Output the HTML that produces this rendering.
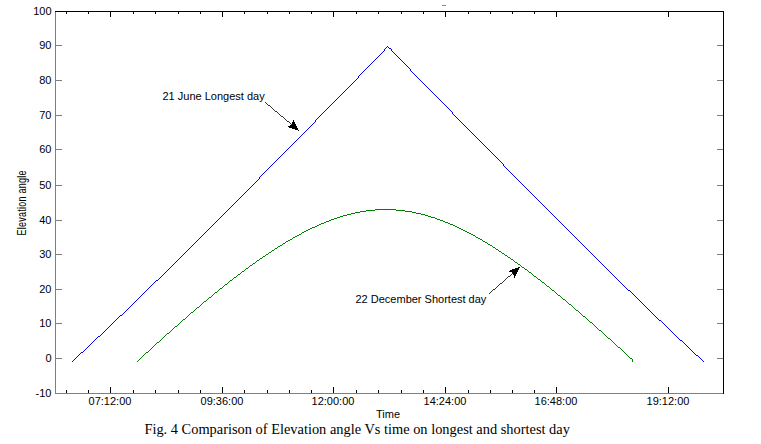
<!DOCTYPE html>
<html><head><meta charset="utf-8"><style>
html,body{margin:0;padding:0;background:#fff;}
body{width:761px;height:444px;overflow:hidden;}
svg{display:block;}
</style></head><body>
<svg width="761" height="444" viewBox="0 0 761 444">
<g shape-rendering="crispEdges">
<rect x="55" y="11" width="1" height="383" fill="#7f7f7f"/>
<rect x="55" y="393" width="669" height="1" fill="#7f7f7f"/>
<rect x="55" y="11" width="669" height="1" fill="#000"/>
<rect x="723" y="11" width="1" height="383" fill="#000"/>
<rect x="56" y="45" width="6" height="1" fill="#7f7f7f"/>
<rect x="717" y="45" width="6" height="1" fill="#7f7f7f"/>
<rect x="56" y="80" width="6" height="1" fill="#7f7f7f"/>
<rect x="717" y="80" width="6" height="1" fill="#7f7f7f"/>
<rect x="56" y="115" width="6" height="1" fill="#7f7f7f"/>
<rect x="717" y="115" width="6" height="1" fill="#7f7f7f"/>
<rect x="56" y="149" width="6" height="1" fill="#7f7f7f"/>
<rect x="717" y="149" width="6" height="1" fill="#7f7f7f"/>
<rect x="56" y="185" width="6" height="1" fill="#7f7f7f"/>
<rect x="717" y="185" width="6" height="1" fill="#7f7f7f"/>
<rect x="56" y="220" width="6" height="1" fill="#7f7f7f"/>
<rect x="717" y="220" width="6" height="1" fill="#7f7f7f"/>
<rect x="56" y="254" width="6" height="1" fill="#7f7f7f"/>
<rect x="717" y="254" width="6" height="1" fill="#7f7f7f"/>
<rect x="56" y="289" width="6" height="1" fill="#7f7f7f"/>
<rect x="717" y="289" width="6" height="1" fill="#7f7f7f"/>
<rect x="56" y="323" width="6" height="1" fill="#7f7f7f"/>
<rect x="717" y="323" width="6" height="1" fill="#7f7f7f"/>
<rect x="56" y="358" width="6" height="1" fill="#7f7f7f"/>
<rect x="717" y="358" width="6" height="1" fill="#7f7f7f"/>
<rect x="110" y="387" width="1" height="6" fill="#000"/>
<rect x="110" y="12" width="1" height="5" fill="#000"/>
<rect x="222" y="387" width="1" height="6" fill="#000"/>
<rect x="222" y="12" width="1" height="5" fill="#000"/>
<rect x="333" y="387" width="1" height="6" fill="#000"/>
<rect x="333" y="12" width="1" height="5" fill="#000"/>
<rect x="445" y="387" width="1" height="6" fill="#000"/>
<rect x="445" y="12" width="1" height="5" fill="#000"/>
<rect x="556" y="387" width="1" height="6" fill="#000"/>
<rect x="556" y="12" width="1" height="5" fill="#000"/>
<rect x="668" y="387" width="1" height="6" fill="#000"/>
<rect x="668" y="12" width="1" height="5" fill="#000"/>
<rect x="66" y="390" width="1" height="3" fill="#000"/>
<rect x="66" y="12" width="1" height="2" fill="#000"/>
<rect x="88" y="390" width="1" height="3" fill="#000"/>
<rect x="88" y="12" width="1" height="2" fill="#000"/>
<rect x="133" y="390" width="1" height="3" fill="#000"/>
<rect x="133" y="12" width="1" height="2" fill="#000"/>
<rect x="155" y="390" width="1" height="3" fill="#000"/>
<rect x="155" y="12" width="1" height="2" fill="#000"/>
<rect x="178" y="390" width="1" height="3" fill="#000"/>
<rect x="178" y="12" width="1" height="2" fill="#000"/>
<rect x="200" y="390" width="1" height="3" fill="#000"/>
<rect x="200" y="12" width="1" height="2" fill="#000"/>
<rect x="244" y="390" width="1" height="3" fill="#000"/>
<rect x="244" y="12" width="1" height="2" fill="#000"/>
<rect x="267" y="390" width="1" height="3" fill="#000"/>
<rect x="267" y="12" width="1" height="2" fill="#000"/>
<rect x="289" y="390" width="1" height="3" fill="#000"/>
<rect x="289" y="12" width="1" height="2" fill="#000"/>
<rect x="311" y="390" width="1" height="3" fill="#000"/>
<rect x="311" y="12" width="1" height="2" fill="#000"/>
<rect x="356" y="390" width="1" height="3" fill="#000"/>
<rect x="356" y="12" width="1" height="2" fill="#000"/>
<rect x="378" y="390" width="1" height="3" fill="#000"/>
<rect x="378" y="12" width="1" height="2" fill="#000"/>
<rect x="401" y="390" width="1" height="3" fill="#000"/>
<rect x="401" y="12" width="1" height="2" fill="#000"/>
<rect x="423" y="390" width="1" height="3" fill="#000"/>
<rect x="423" y="12" width="1" height="2" fill="#000"/>
<rect x="468" y="390" width="1" height="3" fill="#000"/>
<rect x="468" y="12" width="1" height="2" fill="#000"/>
<rect x="490" y="390" width="1" height="3" fill="#000"/>
<rect x="490" y="12" width="1" height="2" fill="#000"/>
<rect x="512" y="390" width="1" height="3" fill="#000"/>
<rect x="512" y="12" width="1" height="2" fill="#000"/>
<rect x="534" y="390" width="1" height="3" fill="#000"/>
<rect x="534" y="12" width="1" height="2" fill="#000"/>
<rect x="442" y="5" width="4" height="1" fill="#888"/>
</g>
<path d="M387 46h1v1h-1zM386 47h1v1h-1zM388 47h1v1h-1zM385 48h1v1h-1zM389 48h2v1h-2zM384 49h1v1h-1zM391 49h1v1h-1zM384 50h1v1h-1zM391 50h1v1h-1zM383 51h1v1h-1zM392 51h1v1h-1zM382 52h1v1h-1zM393 52h1v1h-1zM381 53h1v1h-1zM394 53h1v1h-1zM380 54h1v1h-1zM395 54h1v1h-1zM379 55h1v1h-1zM396 55h1v1h-1zM378 56h1v1h-1zM397 56h1v1h-1zM377 57h1v1h-1zM398 57h1v1h-1zM376 58h1v1h-1zM399 58h1v1h-1zM375 59h1v1h-1zM400 59h1v1h-1zM374 60h1v1h-1zM401 60h1v1h-1zM373 61h1v1h-1zM402 61h1v1h-1zM372 62h1v1h-1zM403 62h1v1h-1zM371 63h1v1h-1zM404 63h1v1h-1zM370 64h1v1h-1zM405 64h1v1h-1zM369 65h1v1h-1zM406 65h1v1h-1zM368 66h1v1h-1zM407 66h1v1h-1zM367 67h1v1h-1zM408 67h1v1h-1zM366 68h1v1h-1zM409 68h1v1h-1zM365 69h1v1h-1zM410 69h1v1h-1zM364 70h1v1h-1zM410 70h1v1h-1zM363 71h1v1h-1zM411 71h1v1h-1zM362 72h1v1h-1zM412 72h1v1h-1zM361 73h1v1h-1zM413 73h1v1h-1zM360 74h1v1h-1zM414 74h1v1h-1zM359 75h1v1h-1zM415 75h1v1h-1zM358 76h1v1h-1zM416 76h1v1h-1zM358 77h1v1h-1zM417 77h1v1h-1zM357 78h1v1h-1zM418 78h1v1h-1zM356 79h1v1h-1zM419 79h1v1h-1zM355 80h1v1h-1zM420 80h1v1h-1zM354 81h1v1h-1zM421 81h1v1h-1zM353 82h1v1h-1zM422 82h1v1h-1zM352 83h1v1h-1zM423 83h1v1h-1zM351 84h1v1h-1zM424 84h1v1h-1zM350 85h1v1h-1zM425 85h1v1h-1zM349 86h1v1h-1zM426 86h1v1h-1zM348 87h1v1h-1zM427 87h1v1h-1zM347 88h1v1h-1zM428 88h1v1h-1zM346 89h1v1h-1zM429 89h1v1h-1zM345 90h1v1h-1zM430 90h1v1h-1zM344 91h1v1h-1zM431 91h1v1h-1zM343 92h1v1h-1zM432 92h1v1h-1zM342 93h1v1h-1zM433 93h1v1h-1zM341 94h1v1h-1zM434 94h1v1h-1zM340 95h1v1h-1zM435 95h1v1h-1zM339 96h1v1h-1zM436 96h1v1h-1zM338 97h1v1h-1zM437 97h1v1h-1zM337 98h1v1h-1zM438 98h1v1h-1zM336 99h1v1h-1zM439 99h1v1h-1zM335 100h1v1h-1zM440 100h1v1h-1zM334 101h1v1h-1zM441 101h1v1h-1zM333 102h1v1h-1zM442 102h1v1h-1zM332 103h1v1h-1zM443 103h1v1h-1zM331 104h1v1h-1zM444 104h1v1h-1zM330 105h1v1h-1zM445 105h1v1h-1zM329 106h1v1h-1zM446 106h1v1h-1zM328 107h1v1h-1zM447 107h1v1h-1zM327 108h1v1h-1zM448 108h1v1h-1zM326 109h1v1h-1zM449 109h1v1h-1zM325 110h1v1h-1zM450 110h1v1h-1zM324 111h1v1h-1zM451 111h1v1h-1zM323 112h1v1h-1zM452 112h1v1h-1zM322 113h1v1h-1zM452 113h1v1h-1zM321 114h1v1h-1zM453 114h1v1h-1zM320 115h1v1h-1zM454 115h1v1h-1zM319 116h1v1h-1zM455 116h1v1h-1zM318 117h1v1h-1zM456 117h1v1h-1zM317 118h1v1h-1zM457 118h1v1h-1zM316 119h1v1h-1zM458 119h1v1h-1zM315 120h1v1h-1zM459 120h1v1h-1zM315 121h1v1h-1zM460 121h1v1h-1zM314 122h1v1h-1zM461 122h1v1h-1zM313 123h1v1h-1zM462 123h1v1h-1zM312 124h1v1h-1zM463 124h1v1h-1zM311 125h1v1h-1zM464 125h1v1h-1zM310 126h1v1h-1zM465 126h1v1h-1zM309 127h1v1h-1zM466 127h1v1h-1zM308 128h1v1h-1zM467 128h1v1h-1zM307 129h1v1h-1zM468 129h1v1h-1zM306 130h1v1h-1zM469 130h1v1h-1zM305 131h1v1h-1zM470 131h1v1h-1zM304 132h1v1h-1zM471 132h1v1h-1zM303 133h1v1h-1zM472 133h1v1h-1zM302 134h1v1h-1zM473 134h1v1h-1zM301 135h1v1h-1zM474 135h1v1h-1zM300 136h1v1h-1zM475 136h1v1h-1zM299 137h1v1h-1zM476 137h1v1h-1zM298 138h1v1h-1zM477 138h1v1h-1zM297 139h1v1h-1zM478 139h1v1h-1zM296 140h1v1h-1zM479 140h1v1h-1zM295 141h1v1h-1zM480 141h1v1h-1zM294 142h1v1h-1zM481 142h1v1h-1zM293 143h1v1h-1zM482 143h1v1h-1zM292 144h1v1h-1zM483 144h1v1h-1zM291 145h1v1h-1zM484 145h1v1h-1zM290 146h1v1h-1zM485 146h1v1h-1zM289 147h1v1h-1zM486 147h1v1h-1zM288 148h1v1h-1zM487 148h1v1h-1zM287 149h1v1h-1zM488 149h1v1h-1zM286 150h1v1h-1zM489 150h1v1h-1zM285 151h1v1h-1zM490 151h1v1h-1zM284 152h1v1h-1zM491 152h1v1h-1zM283 153h1v1h-1zM492 153h1v1h-1zM282 154h1v1h-1zM493 154h1v1h-1zM281 155h1v1h-1zM494 155h1v1h-1zM280 156h1v1h-1zM495 156h1v1h-1zM279 157h1v1h-1zM496 157h1v1h-1zM278 158h1v1h-1zM497 158h1v1h-1zM277 159h1v1h-1zM498 159h1v1h-1zM276 160h1v1h-1zM499 160h1v1h-1zM275 161h1v1h-1zM500 161h1v1h-1zM274 162h1v1h-1zM501 162h1v1h-1zM273 163h1v1h-1zM502 163h1v1h-1zM272 164h1v1h-1zM503 164h1v1h-1zM271 165h1v1h-1zM503 165h1v1h-1zM270 166h1v1h-1zM504 166h1v1h-1zM269 167h1v1h-1zM505 167h1v1h-1zM268 168h1v1h-1zM506 168h1v1h-1zM267 169h1v1h-1zM507 169h1v1h-1zM266 170h1v1h-1zM508 170h1v1h-1zM265 171h1v1h-1zM509 171h1v1h-1zM264 172h1v1h-1zM510 172h1v1h-1zM263 173h1v1h-1zM511 173h1v1h-1zM262 174h1v1h-1zM512 174h1v1h-1zM261 175h1v1h-1zM513 175h1v1h-1zM260 176h1v1h-1zM514 176h1v1h-1zM259 177h1v1h-1zM515 177h1v1h-1zM259 178h1v1h-1zM516 178h1v1h-1zM258 179h1v1h-1zM517 179h1v1h-1zM257 180h1v1h-1zM518 180h1v1h-1zM256 181h1v1h-1zM519 181h1v1h-1zM255 182h1v1h-1zM520 182h1v1h-1zM254 183h1v1h-1zM521 183h1v1h-1zM253 184h1v1h-1zM522 184h1v1h-1zM252 185h1v1h-1zM523 185h1v1h-1zM251 186h1v1h-1zM524 186h1v1h-1zM250 187h1v1h-1zM525 187h1v1h-1zM249 188h1v1h-1zM526 188h1v1h-1zM248 189h1v1h-1zM527 189h1v1h-1zM247 190h1v1h-1zM528 190h1v1h-1zM246 191h1v1h-1zM529 191h1v1h-1zM245 192h1v1h-1zM530 192h1v1h-1zM244 193h1v1h-1zM531 193h1v1h-1zM243 194h1v1h-1zM532 194h1v1h-1zM242 195h1v1h-1zM533 195h1v1h-1zM241 196h1v1h-1zM534 196h1v1h-1zM240 197h1v1h-1zM535 197h1v1h-1zM239 198h1v1h-1zM536 198h1v1h-1zM238 199h1v1h-1zM537 199h1v1h-1zM237 200h1v1h-1zM538 200h1v1h-1zM236 201h1v1h-1zM539 201h1v1h-1zM235 202h1v1h-1zM540 202h1v1h-1zM234 203h1v1h-1zM541 203h1v1h-1zM233 204h1v1h-1zM542 204h1v1h-1zM232 205h1v1h-1zM543 205h1v1h-1zM231 206h1v1h-1zM544 206h1v1h-1zM230 207h1v1h-1zM545 207h1v1h-1zM229 208h1v1h-1zM546 208h1v1h-1zM228 209h1v1h-1zM547 209h1v1h-1zM227 210h1v1h-1zM548 210h1v1h-1zM226 211h1v1h-1zM549 211h1v1h-1zM225 212h1v1h-1zM550 212h1v1h-1zM224 213h1v1h-1zM551 213h1v1h-1zM223 214h1v1h-1zM552 214h1v1h-1zM222 215h1v1h-1zM553 215h1v1h-1zM221 216h1v1h-1zM554 216h1v1h-1zM220 217h1v1h-1zM555 217h1v1h-1zM219 218h1v1h-1zM556 218h1v1h-1zM218 219h1v1h-1zM557 219h1v1h-1zM217 220h1v1h-1zM558 220h1v1h-1zM216 221h1v1h-1zM559 221h1v1h-1zM215 222h1v1h-1zM560 222h1v1h-1zM214 223h1v1h-1zM561 223h1v1h-1zM213 224h1v1h-1zM562 224h1v1h-1zM212 225h1v1h-1zM563 225h1v1h-1zM211 226h1v1h-1zM564 226h1v1h-1zM210 227h1v1h-1zM565 227h1v1h-1zM209 228h1v1h-1zM566 228h1v1h-1zM208 229h1v1h-1zM567 229h1v1h-1zM207 230h1v1h-1zM568 230h1v1h-1zM206 231h1v1h-1zM569 231h1v1h-1zM205 232h1v1h-1zM570 232h1v1h-1zM204 233h1v1h-1zM571 233h1v1h-1zM203 234h1v1h-1zM572 234h1v1h-1zM202 235h1v1h-1zM573 235h1v1h-1zM201 236h1v1h-1zM574 236h1v1h-1zM200 237h1v1h-1zM575 237h1v1h-1zM199 238h1v1h-1zM576 238h1v1h-1zM198 239h1v1h-1zM577 239h1v1h-1zM197 240h1v1h-1zM578 240h1v1h-1zM196 241h1v1h-1zM579 241h1v1h-1zM195 242h1v1h-1zM580 242h1v1h-1zM194 243h1v1h-1zM581 243h1v1h-1zM193 244h1v1h-1zM582 244h1v1h-1zM192 245h1v1h-1zM583 245h1v1h-1zM191 246h1v1h-1zM584 246h1v1h-1zM190 247h1v1h-1zM585 247h1v1h-1zM189 248h1v1h-1zM586 248h1v1h-1zM188 249h1v1h-1zM587 249h1v1h-1zM187 250h1v1h-1zM588 250h1v1h-1zM186 251h1v1h-1zM589 251h1v1h-1zM185 252h1v1h-1zM590 252h1v1h-1zM184 253h1v1h-1zM591 253h1v1h-1zM183 254h1v1h-1zM592 254h1v1h-1zM182 255h1v1h-1zM593 255h1v1h-1zM181 256h1v1h-1zM594 256h1v1h-1zM180 257h1v1h-1zM595 257h1v1h-1zM179 258h1v1h-1zM596 258h1v1h-1zM178 259h1v1h-1zM597 259h1v1h-1zM177 260h1v1h-1zM598 260h1v1h-1zM176 261h1v1h-1zM599 261h1v1h-1zM175 262h1v1h-1zM600 262h1v1h-1zM174 263h1v1h-1zM601 263h1v1h-1zM173 264h1v1h-1zM602 264h1v1h-1zM172 265h1v1h-1zM603 265h1v1h-1zM171 266h1v1h-1zM604 266h1v1h-1zM170 267h1v1h-1zM605 267h1v1h-1zM169 268h1v1h-1zM606 268h1v1h-1zM168 269h1v1h-1zM607 269h1v1h-1zM167 270h1v1h-1zM608 270h1v1h-1zM166 271h1v1h-1zM609 271h1v1h-1zM165 272h1v1h-1zM610 272h1v1h-1zM164 273h1v1h-1zM611 273h1v1h-1zM163 274h1v1h-1zM612 274h1v1h-1zM162 275h1v1h-1zM613 275h1v1h-1zM161 276h1v1h-1zM614 276h1v1h-1zM160 277h1v1h-1zM615 277h1v1h-1zM159 278h1v1h-1zM616 278h1v1h-1zM158 279h1v1h-1zM617 279h1v1h-1zM156 280h2v1h-2zM618 280h1v1h-1zM155 281h1v1h-1zM619 281h1v1h-1zM154 282h1v1h-1zM620 282h1v1h-1zM153 283h1v1h-1zM621 283h1v1h-1zM152 284h1v1h-1zM622 284h1v1h-1zM151 285h1v1h-1zM623 285h1v1h-1zM150 286h1v1h-1zM624 286h1v1h-1zM149 287h1v1h-1zM625 287h1v1h-1zM148 288h1v1h-1zM626 288h1v1h-1zM147 289h1v1h-1zM627 289h1v1h-1zM146 290h1v1h-1zM628 290h2v1h-2zM145 291h1v1h-1zM630 291h1v1h-1zM144 292h1v1h-1zM631 292h1v1h-1zM143 293h1v1h-1zM632 293h1v1h-1zM142 294h1v1h-1zM633 294h1v1h-1zM141 295h1v1h-1zM634 295h1v1h-1zM140 296h1v1h-1zM635 296h1v1h-1zM139 297h1v1h-1zM636 297h1v1h-1zM138 298h1v1h-1zM637 298h1v1h-1zM137 299h1v1h-1zM638 299h1v1h-1zM136 300h1v1h-1zM639 300h1v1h-1zM135 301h1v1h-1zM640 301h1v1h-1zM134 302h1v1h-1zM641 302h1v1h-1zM133 303h1v1h-1zM642 303h1v1h-1zM132 304h1v1h-1zM643 304h1v1h-1zM131 305h1v1h-1zM644 305h1v1h-1zM130 306h1v1h-1zM645 306h1v1h-1zM129 307h1v1h-1zM646 307h1v1h-1zM128 308h1v1h-1zM647 308h1v1h-1zM127 309h1v1h-1zM648 309h1v1h-1zM126 310h1v1h-1zM649 310h1v1h-1zM125 311h1v1h-1zM650 311h1v1h-1zM124 312h1v1h-1zM651 312h1v1h-1zM123 313h1v1h-1zM652 313h1v1h-1zM122 314h1v1h-1zM653 314h1v1h-1zM120 315h2v1h-2zM654 315h1v1h-1zM119 316h1v1h-1zM655 316h1v1h-1zM118 317h1v1h-1zM656 317h1v1h-1zM117 318h1v1h-1zM657 318h1v1h-1zM116 319h1v1h-1zM658 319h1v1h-1zM115 320h1v1h-1zM659 320h2v1h-2zM114 321h1v1h-1zM661 321h1v1h-1zM113 322h1v1h-1zM662 322h1v1h-1zM112 323h1v1h-1zM663 323h1v1h-1zM111 324h1v1h-1zM664 324h1v1h-1zM110 325h1v1h-1zM665 325h1v1h-1zM109 326h1v1h-1zM666 326h1v1h-1zM108 327h1v1h-1zM667 327h1v1h-1zM107 328h1v1h-1zM668 328h1v1h-1zM106 329h1v1h-1zM669 329h1v1h-1zM105 330h1v1h-1zM670 330h1v1h-1zM104 331h1v1h-1zM671 331h1v1h-1zM103 332h1v1h-1zM672 332h1v1h-1zM102 333h1v1h-1zM673 333h1v1h-1zM101 334h1v1h-1zM674 334h1v1h-1zM100 335h1v1h-1zM675 335h1v1h-1zM98 336h2v1h-2zM676 336h1v1h-1zM97 337h1v1h-1zM677 337h1v1h-1zM96 338h1v1h-1zM678 338h1v1h-1zM95 339h1v1h-1zM679 339h1v1h-1zM94 340h1v1h-1zM680 340h2v1h-2zM93 341h1v1h-1zM682 341h1v1h-1zM92 342h1v1h-1zM683 342h1v1h-1zM91 343h1v1h-1zM684 343h1v1h-1zM90 344h1v1h-1zM685 344h1v1h-1zM89 345h1v1h-1zM686 345h1v1h-1zM88 346h1v1h-1zM687 346h1v1h-1zM87 347h1v1h-1zM688 347h1v1h-1zM86 348h1v1h-1zM689 348h1v1h-1zM85 349h1v1h-1zM690 349h1v1h-1zM84 350h1v1h-1zM691 350h1v1h-1zM83 351h1v1h-1zM692 351h1v1h-1zM81 352h2v1h-2zM693 352h1v1h-1zM80 353h1v1h-1zM694 353h1v1h-1zM79 354h1v1h-1zM695 354h1v1h-1zM78 355h1v1h-1zM696 355h2v1h-2zM77 356h1v1h-1zM698 356h1v1h-1zM76 357h1v1h-1zM699 357h1v1h-1zM75 358h1v1h-1zM700 358h1v1h-1zM74 359h1v1h-1zM701 359h1v1h-1zM73 360h1v1h-1zM702 360h1v1h-1zM72 361h1v1h-1zM703 361h1v1h-1z" fill="#0000ff" shape-rendering="crispEdges"/>
<path d="M375 209h21v1h-21zM366 210h9v1h-9zM396 210h9v1h-9zM360 211h6v1h-6zM405 211h7v1h-7zM355 212h5v1h-5zM412 212h4v1h-4zM351 213h4v1h-4zM416 213h5v1h-5zM347 214h4v1h-4zM421 214h4v1h-4zM343 215h4v1h-4zM425 215h3v1h-3zM340 216h3v1h-3zM428 216h3v1h-3zM337 217h3v1h-3zM431 217h4v1h-4zM334 218h3v1h-3zM435 218h2v1h-2zM331 219h3v1h-3zM437 219h3v1h-3zM329 220h2v1h-2zM440 220h3v1h-3zM326 221h3v1h-3zM443 221h2v1h-2zM324 222h2v1h-2zM445 222h3v1h-3zM321 223h3v1h-3zM448 223h2v1h-2zM319 224h2v1h-2zM450 224h3v1h-3zM317 225h2v1h-2zM453 225h2v1h-2zM315 226h2v1h-2zM455 226h2v1h-2zM312 227h3v1h-3zM457 227h2v1h-2zM310 228h2v1h-2zM459 228h2v1h-2zM308 229h2v1h-2zM461 229h2v1h-2zM306 230h2v1h-2zM463 230h2v1h-2zM304 231h2v1h-2zM465 231h2v1h-2zM302 232h2v1h-2zM467 232h2v1h-2zM301 233h1v1h-1zM469 233h2v1h-2zM299 234h2v1h-2zM471 234h2v1h-2zM297 235h2v1h-2zM473 235h2v1h-2zM295 236h2v1h-2zM475 236h1v1h-1zM293 237h2v1h-2zM476 237h2v1h-2zM292 238h1v1h-1zM478 238h2v1h-2zM290 239h2v1h-2zM480 239h2v1h-2zM288 240h2v1h-2zM482 240h1v1h-1zM286 241h2v1h-2zM483 241h2v1h-2zM285 242h1v1h-1zM485 242h2v1h-2zM283 243h2v1h-2zM487 243h1v1h-1zM282 244h1v1h-1zM488 244h2v1h-2zM280 245h2v1h-2zM490 245h2v1h-2zM278 246h2v1h-2zM492 246h1v1h-1zM277 247h1v1h-1zM493 247h2v1h-2zM275 248h2v1h-2zM495 248h1v1h-1zM274 249h1v1h-1zM496 249h2v1h-2zM272 250h2v1h-2zM498 250h1v1h-1zM271 251h1v1h-1zM499 251h2v1h-2zM269 252h2v1h-2zM501 252h1v1h-1zM268 253h1v1h-1zM502 253h2v1h-2zM266 254h2v1h-2zM504 254h1v1h-1zM265 255h1v1h-1zM505 255h2v1h-2zM263 256h2v1h-2zM507 256h1v1h-1zM262 257h1v1h-1zM508 257h2v1h-2zM260 258h2v1h-2zM510 258h1v1h-1zM259 259h1v1h-1zM511 259h2v1h-2zM257 260h2v1h-2zM513 260h1v1h-1zM256 261h1v1h-1zM514 261h1v1h-1zM255 262h1v1h-1zM515 262h2v1h-2zM253 263h2v1h-2zM517 263h1v1h-1zM252 264h1v1h-1zM518 264h2v1h-2zM250 265h2v1h-2zM520 265h1v1h-1zM249 266h1v1h-1zM521 266h1v1h-1zM248 267h1v1h-1zM522 267h2v1h-2zM246 268h2v1h-2zM524 268h1v1h-1zM245 269h1v1h-1zM525 269h2v1h-2zM244 270h1v1h-1zM527 270h1v1h-1zM242 271h2v1h-2zM528 271h1v1h-1zM241 272h1v1h-1zM529 272h2v1h-2zM240 273h1v1h-1zM531 273h1v1h-1zM238 274h2v1h-2zM532 274h1v1h-1zM237 275h1v1h-1zM533 275h1v1h-1zM236 276h1v1h-1zM534 276h2v1h-2zM234 277h2v1h-2zM536 277h1v1h-1zM233 278h1v1h-1zM537 278h1v1h-1zM232 279h1v1h-1zM538 279h2v1h-2zM230 280h2v1h-2zM540 280h1v1h-1zM229 281h1v1h-1zM541 281h1v1h-1zM228 282h1v1h-1zM542 282h2v1h-2zM227 283h1v1h-1zM544 283h1v1h-1zM225 284h2v1h-2zM545 284h1v1h-1zM224 285h1v1h-1zM546 285h1v1h-1zM223 286h1v1h-1zM547 286h2v1h-2zM222 287h1v1h-1zM549 287h1v1h-1zM220 288h2v1h-2zM550 288h1v1h-1zM219 289h1v1h-1zM551 289h1v1h-1zM218 290h1v1h-1zM552 290h2v1h-2zM217 291h1v1h-1zM554 291h1v1h-1zM215 292h2v1h-2zM555 292h1v1h-1zM214 293h1v1h-1zM556 293h1v1h-1zM213 294h1v1h-1zM557 294h1v1h-1zM212 295h1v1h-1zM558 295h2v1h-2zM211 296h1v1h-1zM560 296h1v1h-1zM209 297h2v1h-2zM561 297h1v1h-1zM208 298h1v1h-1zM562 298h1v1h-1zM207 299h1v1h-1zM563 299h2v1h-2zM206 300h1v1h-1zM565 300h1v1h-1zM204 301h2v1h-2zM566 301h1v1h-1zM203 302h1v1h-1zM567 302h1v1h-1zM202 303h1v1h-1zM568 303h1v1h-1zM201 304h1v1h-1zM569 304h2v1h-2zM200 305h1v1h-1zM571 305h1v1h-1zM199 306h1v1h-1zM572 306h1v1h-1zM197 307h2v1h-2zM573 307h1v1h-1zM196 308h1v1h-1zM574 308h1v1h-1zM195 309h1v1h-1zM575 309h1v1h-1zM194 310h1v1h-1zM576 310h2v1h-2zM193 311h1v1h-1zM578 311h1v1h-1zM191 312h2v1h-2zM579 312h1v1h-1zM190 313h1v1h-1zM580 313h1v1h-1zM189 314h1v1h-1zM581 314h1v1h-1zM188 315h1v1h-1zM582 315h1v1h-1zM187 316h1v1h-1zM583 316h2v1h-2zM186 317h1v1h-1zM585 317h1v1h-1zM185 318h1v1h-1zM586 318h1v1h-1zM183 319h2v1h-2zM587 319h1v1h-1zM182 320h1v1h-1zM588 320h1v1h-1zM181 321h1v1h-1zM589 321h1v1h-1zM180 322h1v1h-1zM590 322h2v1h-2zM179 323h1v1h-1zM592 323h1v1h-1zM178 324h1v1h-1zM593 324h1v1h-1zM177 325h1v1h-1zM594 325h1v1h-1zM175 326h2v1h-2zM595 326h1v1h-1zM174 327h1v1h-1zM596 327h1v1h-1zM173 328h1v1h-1zM597 328h1v1h-1zM172 329h1v1h-1zM598 329h1v1h-1zM171 330h1v1h-1zM599 330h2v1h-2zM170 331h1v1h-1zM601 331h1v1h-1zM169 332h1v1h-1zM602 332h1v1h-1zM167 333h2v1h-2zM603 333h1v1h-1zM166 334h1v1h-1zM604 334h1v1h-1zM165 335h1v1h-1zM605 335h1v1h-1zM164 336h1v1h-1zM606 336h1v1h-1zM163 337h1v1h-1zM607 337h1v1h-1zM162 338h1v1h-1zM608 338h2v1h-2zM161 339h1v1h-1zM610 339h1v1h-1zM160 340h1v1h-1zM611 340h1v1h-1zM159 341h1v1h-1zM612 341h1v1h-1zM157 342h2v1h-2zM613 342h1v1h-1zM156 343h1v1h-1zM614 343h1v1h-1zM155 344h1v1h-1zM615 344h1v1h-1zM154 345h1v1h-1zM616 345h1v1h-1zM153 346h1v1h-1zM617 346h1v1h-1zM152 347h1v1h-1zM618 347h2v1h-2zM151 348h1v1h-1zM620 348h1v1h-1zM150 349h1v1h-1zM621 349h1v1h-1zM149 350h1v1h-1zM622 350h1v1h-1zM148 351h1v1h-1zM623 351h1v1h-1zM146 352h2v1h-2zM624 352h1v1h-1zM145 353h1v1h-1zM625 353h1v1h-1zM144 354h1v1h-1zM626 354h1v1h-1zM143 355h1v1h-1zM627 355h1v1h-1zM142 356h1v1h-1zM628 356h1v1h-1zM141 357h1v1h-1zM629 357h1v1h-1zM140 358h1v1h-1zM630 358h2v1h-2zM139 359h1v1h-1zM632 359h1v1h-1zM138 360h1v1h-1zM632 360h1v1h-1zM137 361h1v1h-1zM632 361h1v1h-1z" fill="#008000" shape-rendering="crispEdges"/>
<g font-family="Liberation Sans, Arial, sans-serif" font-size="11" fill="#000">
<text x="51.5" y="15" text-anchor="end">100</text>
<text x="51.5" y="49" text-anchor="end">90</text>
<text x="51.5" y="84" text-anchor="end">80</text>
<text x="51.5" y="119" text-anchor="end">70</text>
<text x="51.5" y="153" text-anchor="end">60</text>
<text x="51.5" y="189" text-anchor="end">50</text>
<text x="51.5" y="224" text-anchor="end">40</text>
<text x="51.5" y="258" text-anchor="end">30</text>
<text x="51.5" y="293" text-anchor="end">20</text>
<text x="51.5" y="327" text-anchor="end">10</text>
<text x="51.5" y="362" text-anchor="end">0</text>
<text x="51.5" y="397" text-anchor="end">-10</text>
<text x="110" y="405" text-anchor="middle">07:12:00</text>
<text x="222" y="405" text-anchor="middle">09:36:00</text>
<text x="333" y="405" text-anchor="middle">12:00:00</text>
<text x="445" y="405" text-anchor="middle">14:24:00</text>
<text x="556" y="405" text-anchor="middle">16:48:00</text>
<text x="668" y="405" text-anchor="middle">19:12:00</text>
<text x="388" y="418" text-anchor="middle">Time</text>
<text x="162.5" y="100">21 June Longest day</text>
<text x="355.5" y="303">22 December Shortest day</text>
<text transform="translate(26,235.5) rotate(-90) scale(0.72,1)" font-size="12.5" textLength="90.3" lengthAdjust="spacing">Elevation angle</text>
</g>
<path d="M265 102h1v1h-1zM266 103h1v1h-1zM267 104h1v1h-1zM268 105h2v1h-2zM270 106h1v1h-1zM271 107h1v1h-1zM272 108h1v1h-1zM273 109h1v1h-1zM274 110h1v1h-1zM275 111h2v1h-2zM277 112h1v1h-1zM278 113h1v1h-1zM279 114h1v1h-1zM280 115h1v1h-1zM281 116h2v1h-2zM283 117h1v1h-1zM284 118h1v1h-1zM285 119h1v1h-1zM286 120h1v1h-1zM287 121h2v1h-2zM289 122h1v1h-1zM290 123h1v1h-1zM291 124h1v1h-1zM292 125h1v1h-1zM293 126h1v1h-1zM294 127h1v1h-1z" fill="#333" shape-rendering="crispEdges"/><polygon points="299.2,131.0 286.93,126.93 291.94,124.87 293.12,119.59" fill="#000" shape-rendering="crispEdges"/>
<path d="M515 270h1v1h-1zM514 271h1v1h-1zM513 272h1v1h-1zM512 273h1v1h-1zM511 274h1v1h-1zM510 275h1v1h-1zM508 276h2v1h-2zM507 277h1v1h-1zM506 278h1v1h-1zM505 279h1v1h-1zM504 280h1v1h-1zM503 281h1v1h-1zM502 282h1v1h-1zM500 283h2v1h-2zM499 284h1v1h-1zM498 285h1v1h-1zM497 286h1v1h-1zM496 287h1v1h-1zM495 288h1v1h-1zM493 289h2v1h-2zM492 290h1v1h-1zM491 291h1v1h-1zM490 292h1v1h-1zM489 293h1v1h-1z" fill="#333" shape-rendering="crispEdges"/><polygon points="520.2,266.8 514.29,278.29 513.03,273.03 507.99,271.04" fill="#000" shape-rendering="crispEdges"/>
<text x="144.4" y="434" font-family="Liberation Serif, Times New Roman, serif" font-size="14.5" textLength="425.5" lengthAdjust="spacingAndGlyphs" fill="#000">Fig. 4 Comparison of Elevation angle Vs time on longest and shortest day</text>
</svg>
</body></html>
